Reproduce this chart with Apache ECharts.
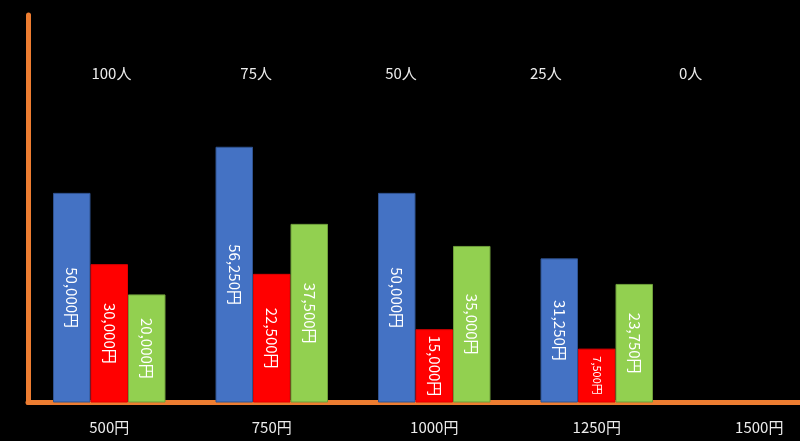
<!DOCTYPE html>
<html><head><meta charset="utf-8">
<script src="https://cdn.jsdelivr.net/npm/echarts@6/dist/echarts.min.js"></script>
<style>html,body{margin:0;padding:0;background:#000;overflow:hidden;width:800px;height:441px;}#c{width:845px;height:441px;}</style>
</head><body><div id="c"></div>
<script>
// Categories (price) and top labels (people)
const priceLabels = ['500円', '750円', '1000円', '1250円', '1500円'];
const peopleLabels = ['100人', '75人', '50人', '25人', '0人'];
// Labelled values (yen)
const blueValues  = [50000, 56250, 50000, 31250, 0];
const redValues   = [30000, 22500, 15000, 7500, 0];
const greenValues = [20000, 37500, 35000, 23750, 0];
// Drawn bar heights (percent of the vertical axis, unlabelled)
const blueHeights  = [54.1, 66.0, 54.1, 37.2, 0];
const redHeights   = [35.7, 33.2, 18.9, 13.9, 0];
const greenHeights = [27.9, 46.1, 40.4, 30.6, 0];

const FONT = '"Noto Sans CJK JP", "Noto Sans", sans-serif';
function fmt(v){ return v ? v.toLocaleString('en-US') + '円' : ''; }
function items(heights, values){
  return heights.map((h, i) => ({
    value: h,
    itemStyle: h === 0 ? { borderWidth: 0 } : undefined,
    label: { formatter: fmt(values[i]), fontSize: values[i] < 10000 ? 11 : 15 }
  }));
}
function series(name, heights, values, color, border){
  return {
    name, type: 'bar', xAxisIndex: 0, yAxisIndex: 0,
    barWidth: 37.5, barGap: '0%',
    itemStyle: { color, borderColor: border, borderWidth: 1 },
    label: { show: true, position: 'inside', rotate: -90, color: '#ffffff', fontFamily: FONT },
    data: items(heights, values)
  };
}
const chart = echarts.init(document.getElementById('c'), null, { renderer: 'canvas' });
chart.setOption({
  backgroundColor: '#000000',
  animation: false,
  grid: [
    { left: 28, top: 15, width: 812.5, bottom: 38.5 },
    { left: 39, top: 50, width: 724, height: 10 }
  ],
  xAxis: [
    { type: 'category', gridIndex: 0, data: priceLabels,
      axisLine: { show: true, lineStyle: { color: '#ED7D31', width: 5 } },
      axisTick: { show: false },
      axisLabel: { color: '#ececec', fontSize: 15, fontFamily: FONT, margin: 17 } },
    { type: 'category', gridIndex: 1, data: peopleLabels, position: 'bottom',
      axisLine: { show: false }, axisTick: { show: false },
      axisLabel: { color: '#ececec', fontSize: 15, fontFamily: FONT, margin: 6 } }
  ],
  yAxis: [
    { type: 'value', gridIndex: 0, min: 0, max: 100,
      axisLine: { show: true, lineStyle: { color: '#ED7D31', width: 5 } },
      axisTick: { show: false }, axisLabel: { show: false }, splitLine: { show: false } },
    { type: 'value', gridIndex: 1, show: false }
  ],
  series: [
    series('blue', blueHeights, blueValues, '#4472C4', '#2F528F'),
    series('red', redHeights, redValues, '#FF0000', '#E00000'),
    series('green', greenHeights, greenValues, '#92D050', '#6E9E3A')
  ]
});
</script></body></html>
